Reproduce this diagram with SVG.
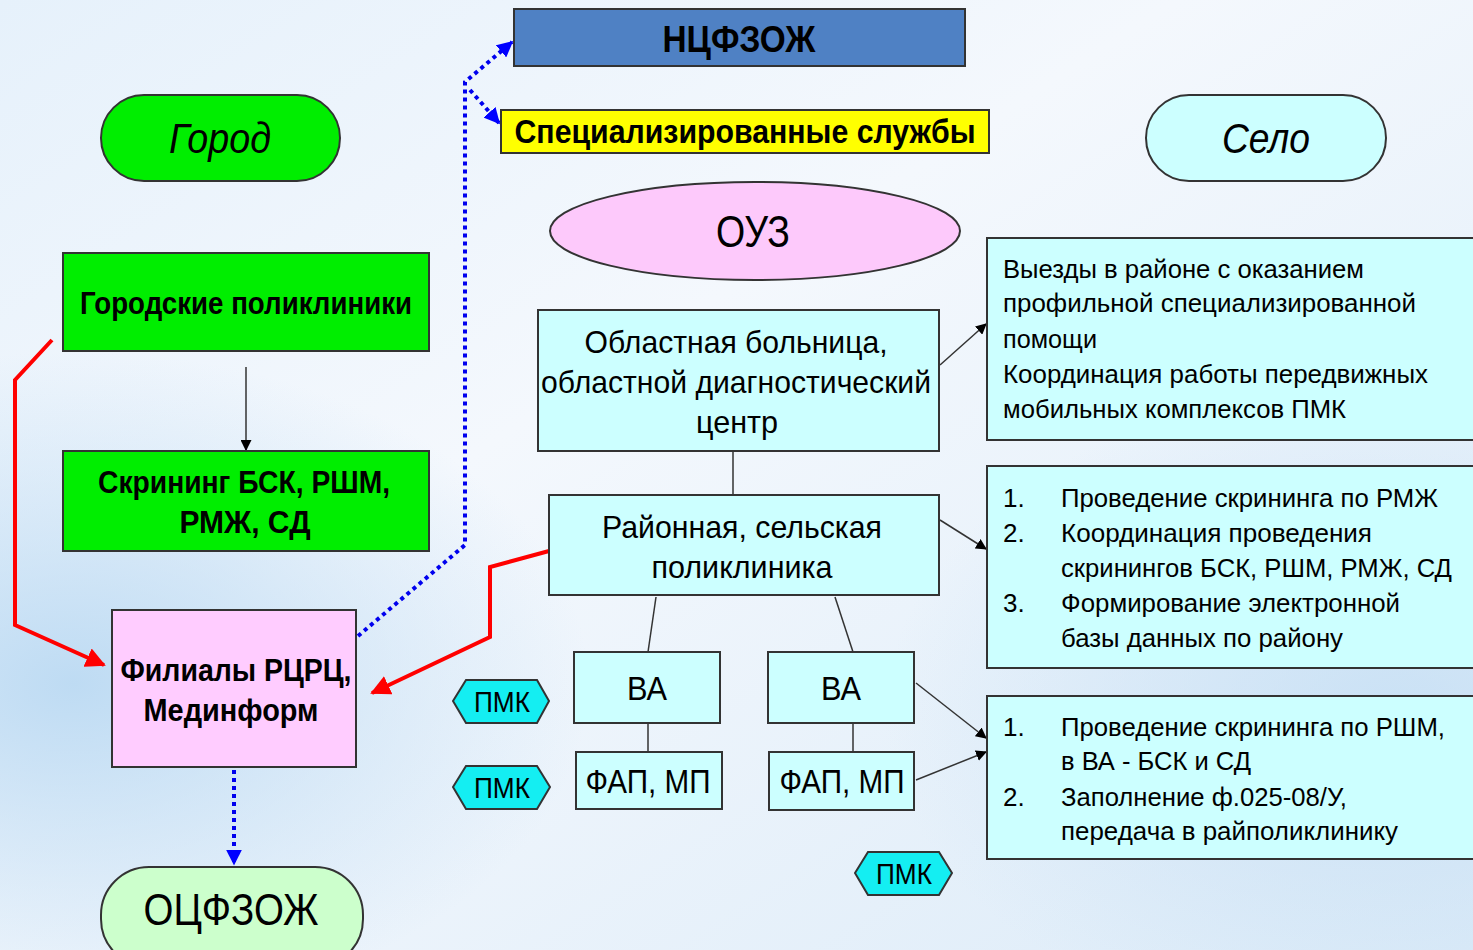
<svg xmlns="http://www.w3.org/2000/svg" width="1473" height="950" viewBox="0 0 1473 950">
<defs>
<linearGradient id="bg" x1="0" y1="0" x2="1" y2="1">
<stop offset="0" stop-color="#e6f1fb"/>
<stop offset="0.4" stop-color="#f4f8fd"/>
<stop offset="1" stop-color="#dcebf8"/>
</linearGradient>
<radialGradient id="band" cx="0.05" cy="0.72" r="0.35">
<stop offset="0" stop-color="#b8d8f2" stop-opacity="0.9"/>
<stop offset="1" stop-color="#b8d8f2" stop-opacity="0"/>
</radialGradient>
<radialGradient id="band2" cx="0.95" cy="0.75" r="0.35">
<stop offset="0" stop-color="#c4def4" stop-opacity="0.8"/>
<stop offset="1" stop-color="#c4def4" stop-opacity="0"/>
</radialGradient>
<marker id="ab" viewBox="0 0 10 10" refX="9" refY="5" markerWidth="11" markerHeight="11" markerUnits="userSpaceOnUse" orient="auto"><path d="M0,0 L10,5 L0,10 z" fill="#000"/></marker>
<marker id="ar" viewBox="0 0 10 10" refX="9" refY="5" markerWidth="5" markerHeight="5" orient="auto"><path d="M0,0 L10,5 L0,10 z" fill="#ff0000"/></marker>
<marker id="abl" viewBox="0 0 10 10" refX="9" refY="5" markerWidth="4" markerHeight="4" orient="auto"><path d="M0,0 L10,5 L0,10 z" fill="#0000ff"/></marker>
</defs>
<style>
.bx{stroke:#333;stroke-width:2}
.g{fill:#00ee00}
.c{fill:#ccffff}
.p{fill:#ffccff}
.t{font-family:"Liberation Sans",Arial,sans-serif;fill:#000}
.b{font-weight:bold}
.m{text-anchor:middle}
.hex{fill:#14eef2;stroke:#333;stroke-width:2}
.ln{stroke:#333;stroke-width:1.5;fill:none}
.red{stroke:#ff0000;stroke-width:4;fill:none}
.blue{stroke:#0000ee;stroke-width:4;fill:none;stroke-dasharray:4 4}
</style>
<rect width="1473" height="950" fill="url(#bg)"/>
<rect width="1473" height="950" fill="url(#band)"/>
<rect width="1473" height="950" fill="url(#band2)"/>

<g id="connectors">
<line class="ln" x1="246" y1="367" x2="246" y2="450" marker-end="url(#ab)"/>
<line class="ln" x1="733" y1="451" x2="733" y2="495"/>
<line class="ln" x1="656" y1="597" x2="648" y2="652"/>
<line class="ln" x1="835" y1="597" x2="853" y2="652"/>
<line class="ln" x1="648" y1="723" x2="648" y2="752"/>
<line class="ln" x1="853" y1="723" x2="853" y2="752"/>
<line class="ln" x1="940" y1="365" x2="986" y2="324" marker-end="url(#ab)"/>
<line class="ln" x1="940" y1="520" x2="986" y2="549" marker-end="url(#ab)"/>
<line class="ln" x1="916" y1="683" x2="986" y2="738" marker-end="url(#ab)"/>
<line class="ln" x1="916" y1="780" x2="986" y2="752" marker-end="url(#ab)"/>
<polyline class="red" points="52,340 15,380 15,625 104,665" marker-end="url(#ar)"/>
<polyline class="red" points="549,551 490,567 490,637 372,693" marker-end="url(#ar)"/>
<polyline class="blue" points="358,636 465,545 465,82 512,42" marker-end="url(#abl)"/>
<polyline class="blue" points="470,90 499,123" marker-end="url(#abl)"/>
<line class="blue" x1="234" y1="770" x2="234" y2="864" marker-end="url(#abl)"/>
</g>

<g id="gorod">
<rect class="bx g" x="101" y="95" width="239" height="86" rx="43"/>
<text class="t m" x="220" y="153" font-size="42" font-style="italic" textLength="102" lengthAdjust="spacingAndGlyphs">Город</text>
</g>
<g id="selo">
<rect class="bx c" x="1146" y="95" width="240" height="86" rx="43"/>
<text class="t m" x="1266" y="153" font-size="42" font-style="italic" textLength="88" lengthAdjust="spacingAndGlyphs">Село</text>
</g>
<g id="ncfzozh">
<rect class="bx" fill="#4f81c4" x="514" y="9" width="451" height="57"/>
<text class="t b m" x="739" y="52" font-size="37" textLength="153" lengthAdjust="spacingAndGlyphs">НЦФЗОЖ</text>
</g>
<g id="spec">
<rect class="bx" fill="#ffff00" x="501" y="110" width="488" height="43"/>
<text class="t b m" x="745" y="143" font-size="33" textLength="461" lengthAdjust="spacingAndGlyphs">Специализированные службы</text>
</g>
<g id="ouz">
<ellipse class="bx" fill="#fdc9fb" cx="755" cy="231" rx="205" ry="49"/>
<text class="t m" x="753" y="247" font-size="44" textLength="74" lengthAdjust="spacingAndGlyphs">ОУЗ</text>
</g>
<g id="gorpol">
<rect class="bx g" x="63" y="253" width="366" height="98"/>
<text class="t b m" x="246" y="314" font-size="32" textLength="332" lengthAdjust="spacingAndGlyphs">Городские поликлиники</text>
</g>
<g id="skrining">
<rect class="bx g" x="63" y="451" width="366" height="100"/>
<text class="t b m" x="244" y="493" font-size="32" textLength="292" lengthAdjust="spacingAndGlyphs">Скрининг БСК, РШМ,</text>
<text class="t b m" x="245" y="533" font-size="32" textLength="131" lengthAdjust="spacingAndGlyphs">РМЖ, СД</text>
</g>
<g id="filialy">
<rect class="bx p" x="112" y="610" width="244" height="157"/>
<text class="t b m" x="236" y="681" font-size="32" textLength="231" lengthAdjust="spacingAndGlyphs">Филиалы РЦРЦ,</text>
<text class="t b m" x="231" y="721" font-size="32" textLength="175" lengthAdjust="spacingAndGlyphs">Мединформ</text>
</g>
<g id="ocfzozh">
<rect class="bx" fill="#ccffcc" x="101" y="867" width="262" height="100" rx="48"/>
<text class="t m" x="231" y="925" font-size="44" textLength="175" lengthAdjust="spacingAndGlyphs">ОЦФЗОЖ</text>
</g>
<g id="oblbol">
<rect class="bx c" x="538" y="310" width="401" height="141"/>
<text class="t m" x="736" y="353" font-size="32" textLength="303" lengthAdjust="spacingAndGlyphs">Областная больница,</text>
<text class="t m" x="736" y="393" font-size="32" textLength="390" lengthAdjust="spacingAndGlyphs">областной диагностический</text>
<text class="t m" x="737" y="433" font-size="32" textLength="82" lengthAdjust="spacingAndGlyphs">центр</text>
</g>
<g id="raion">
<rect class="bx c" x="549" y="495" width="390" height="100"/>
<text class="t m" x="742" y="538" font-size="32" textLength="280" lengthAdjust="spacingAndGlyphs">Районная, сельская</text>
<text class="t m" x="742" y="578" font-size="32" textLength="181" lengthAdjust="spacingAndGlyphs">поликлиника</text>
</g>
<g id="va1">
<rect class="bx c" x="574" y="652" width="146" height="71"/>
<text class="t m" x="647" y="700" font-size="33" textLength="40" lengthAdjust="spacingAndGlyphs">ВА</text>
</g>
<g id="va2">
<rect class="bx c" x="768" y="652" width="146" height="71"/>
<text class="t m" x="841" y="700" font-size="33" textLength="40" lengthAdjust="spacingAndGlyphs">ВА</text>
</g>
<g id="fap1">
<rect class="bx c" x="576" y="752" width="146" height="57"/>
<text class="t m" x="648" y="793" font-size="33" textLength="125" lengthAdjust="spacingAndGlyphs">ФАП, МП</text>
</g>
<g id="fap2">
<rect class="bx c" x="769" y="752" width="145" height="58"/>
<text class="t m" x="842" y="793" font-size="33" textLength="125" lengthAdjust="spacingAndGlyphs">ФАП, МП</text>
</g>
<g id="pmk1">
<polygon class="hex" points="453,701 466,680 537,680 549,701 537,723 466,723"/>
<text class="t m" x="502" y="712" font-size="29" textLength="56" lengthAdjust="spacingAndGlyphs" fill="#1a1a1a">ПМК</text>
</g>
<g id="pmk2">
<polygon class="hex" points="453,787 466,766 537,766 550,787 537,809 466,809"/>
<text class="t m" x="502" y="798" font-size="29" textLength="56" lengthAdjust="spacingAndGlyphs">ПМК</text>
</g>
<g id="pmk3">
<polygon class="hex" points="855,873 868,852 939,852 952,873 939,895 868,895"/>
<text class="t m" x="904" y="884" font-size="29" textLength="56" lengthAdjust="spacingAndGlyphs">ПМК</text>
</g>
<g id="box1">
<rect class="bx c" x="987" y="238" width="490" height="202"/>
<text class="t" font-size="26" fill="#222">
<tspan x="1003" y="278" textLength="361" lengthAdjust="spacingAndGlyphs">Выезды в районе с оказанием</tspan>
<tspan x="1003" y="312" textLength="413" lengthAdjust="spacingAndGlyphs">профильной специализированной</tspan>
<tspan x="1003" y="348" textLength="94" lengthAdjust="spacingAndGlyphs">помощи</tspan>
<tspan x="1003" y="383" textLength="425" lengthAdjust="spacingAndGlyphs">Координация работы передвижных</tspan>
<tspan x="1003" y="418" textLength="343" lengthAdjust="spacingAndGlyphs">мобильных комплексов ПМК</tspan>
</text>
</g>
<g id="box2">
<rect class="bx c" x="987" y="466" width="490" height="202"/>
<text class="t" font-size="26" fill="#222">
<tspan x="1003" y="507">1.</tspan>
<tspan x="1003" y="542">2.</tspan>
<tspan x="1003" y="612">3.</tspan>
<tspan x="1061" y="507" textLength="377" lengthAdjust="spacingAndGlyphs">Проведение скрининга по РМЖ</tspan>
<tspan x="1061" y="542" textLength="311" lengthAdjust="spacingAndGlyphs">Координация проведения</tspan>
<tspan x="1061" y="577" textLength="391" lengthAdjust="spacingAndGlyphs">скринингов БСК, РШМ, РМЖ, СД</tspan>
<tspan x="1061" y="612" textLength="339" lengthAdjust="spacingAndGlyphs">Формирование электронной</tspan>
<tspan x="1061" y="647" textLength="282" lengthAdjust="spacingAndGlyphs">базы данных по району</tspan>
</text>
</g>
<g id="box3">
<rect class="bx c" x="987" y="696" width="490" height="163"/>
<text class="t" font-size="26" fill="#222">
<tspan x="1003" y="736">1.</tspan>
<tspan x="1003" y="806">2.</tspan>
<tspan x="1061" y="736" textLength="384" lengthAdjust="spacingAndGlyphs">Проведение скрининга по РШМ,</tspan>
<tspan x="1061" y="770" textLength="190" lengthAdjust="spacingAndGlyphs">в ВА - БСК и СД</tspan>
<tspan x="1061" y="806" textLength="286" lengthAdjust="spacingAndGlyphs">Заполнение ф.025-08/У,</tspan>
<tspan x="1061" y="840" textLength="337" lengthAdjust="spacingAndGlyphs">передача в райполиклинику</tspan>
</text>
</g>
</svg>
